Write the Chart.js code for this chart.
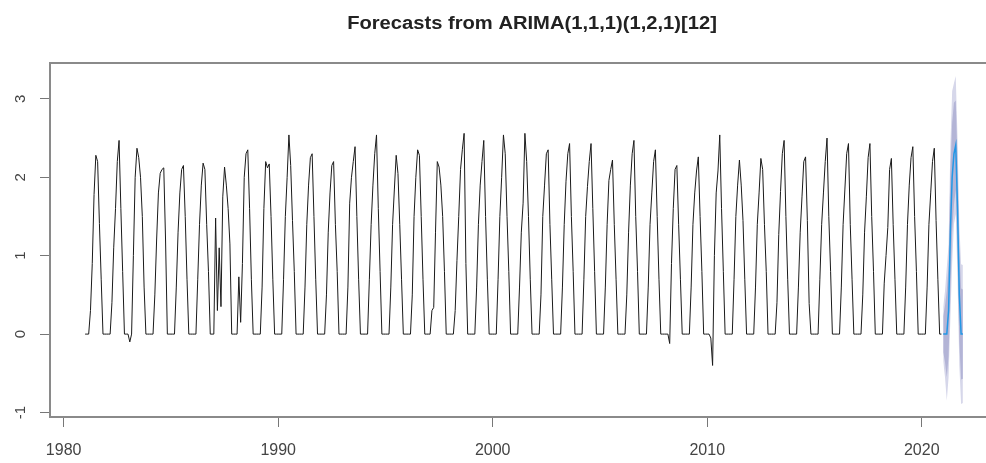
<!DOCTYPE html>
<html>
<head>
<meta charset="utf-8">
<script src="https://cdn.jsdelivr.net/npm/chart.js@4.4.1/dist/chart.umd.min.js"></script>
<style>
  html, body { margin: 0; padding: 0; background: #fff; overflow: hidden; }
  #wrap { position: absolute; left: 0; top: 0; width: 1000px; height: 463px; }
</style>
</head>
<body>
<div id="wrap"><canvas id="fcChart"></canvas></div>
<script>
// Monthly observations, one row per year (Jan..Dec)
const obs1981 = [
  [0, 0, 0, 0.30, 0.90, 1.78, 2.28, 2.20, 1.41, 0.70, 0, 0],
  [0, 0, 0, 0.40, 1.10, 1.60, 2.20, 2.47, 1.60, 0.80, 0, 0],
  [0, -0.10, 0, 1.00, 2.00, 2.37, 2.25, 2.00, 1.50, 0.60, 0, 0],
  [0, 0, 0, 0.50, 1.20, 1.80, 2.05, 2.10, 2.12, 1.20, 0, 0],
  [0, 0, 0, 0.60, 1.30, 1.80, 2.10, 2.15, 1.50, 0.70, 0, 0],
  [0, 0, 0, 0.70, 1.40, 1.90, 2.18, 2.10, 1.40, 0.80, 0, 0],
  [0, 1.48, 0.30, 1.10, 0.35, 1.75, 2.13, 1.90, 1.60, 1.15, 0, 0],
  [0, 0, 0.73, 0.15, 0.90, 2.00, 2.30, 2.35, 1.60, 0.70, 0, 0],
  [0, 0, 0, 0.60, 1.60, 2.20, 2.12, 2.17, 1.50, 0.70, 0, 0],
  [0, 0, 0, 0.70, 1.50, 2.00, 2.54, 2.15, 1.45, 0.80, 0, 0]
];
const obs1991 = [
  [0, 0, 0, 0.60, 1.40, 1.90, 2.25, 2.30, 1.50, 0.70, 0, 0],
  [0, 0, 0, 0.50, 1.30, 1.80, 2.15, 2.20, 1.40, 0.80, 0, 0],
  [0, 0, 0, 0.60, 1.67, 2.00, 2.20, 2.39, 1.50, 0.70, 0, 0],
  [0, 0, 0, 0.70, 1.40, 1.90, 2.30, 2.54, 1.60, 0.80, 0, 0],
  [0, 0, 0, 0.60, 1.40, 1.85, 2.28, 2.05, 1.40, 0.70, 0, 0],
  [0, 0, 0, 0.50, 1.50, 2.00, 2.35, 2.28, 1.50, 0.70, 0, 0],
  [0, 0, 0.30, 0.34, 1.30, 2.20, 2.13, 1.90, 1.50, 0.80, 0, 0],
  [0, 0, 0, 0.30, 0.94, 1.50, 2.10, 2.35, 2.56, 0.90, 0, 0],
  [0, 0, 0, 0.60, 1.40, 1.90, 2.20, 2.47, 1.50, 0.70, 0, 0],
  [0, 0, 0, 0.70, 1.50, 2.00, 2.54, 2.30, 1.50, 0.80, 0, 0]
];
const obs2001 = [
  [0, 0, 0, 0.60, 1.30, 1.67, 2.56, 2.20, 1.50, 0.70, 0, 0],
  [0, 0, 0, 0.50, 1.50, 1.90, 2.30, 2.35, 1.40, 0.70, 0, 0],
  [0, 0, 0, 0.60, 1.40, 1.95, 2.30, 2.43, 1.50, 0.80, 0, 0],
  [0, 0, 0, 0.70, 1.50, 1.88, 2.20, 2.43, 1.60, 0.80, 0, 0],
  [0, 0, 0, 0.60, 1.40, 1.96, 2.10, 2.22, 1.40, 0.70, 0, 0],
  [0, 0, 0, 0.50, 1.30, 1.90, 2.30, 2.47, 1.50, 0.80, 0, 0],
  [0, 0, 0, 0.60, 1.40, 1.80, 2.20, 2.35, 1.50, 0.70, 0, 0],
  [0, 0, 0, -0.12, 0.90, 1.60, 2.10, 2.15, 1.40, 0.70, 0, 0],
  [0, 0, 0, 0.60, 1.40, 1.80, 2.08, 2.26, 1.50, 0.80, 0, 0],
  [0, 0, -0.05, -0.40, 1.00, 1.80, 2.08, 2.54, 1.60, 0.80, 0, 0]
];
const obs2011 = [
  [0, 0, 0, 0.70, 1.50, 1.90, 2.22, 1.90, 1.45, 0.70, 0, 0],
  [0, 0, 0, 0.60, 1.40, 1.80, 2.24, 2.10, 1.40, 0.80, 0, 0],
  [0, 0, 0, 0.40, 1.27, 1.82, 2.30, 2.47, 1.50, 0.70, 0, 0],
  [0, 0, 0, 0.60, 1.30, 1.75, 2.20, 2.26, 1.45, 0.39, 0, 0],
  [0, 0, 0, 0.70, 1.40, 1.80, 2.20, 2.50, 1.50, 0.80, 0, 0],
  [0, 0, 0, 0.60, 1.40, 1.85, 2.30, 2.43, 1.40, 0.70, 0, 0],
  [0, 0, 0, 0.50, 1.30, 1.75, 2.25, 2.43, 1.50, 0.80, 0, 0],
  [0, 0, 0, 0.65, 1.00, 1.36, 2.10, 2.24, 1.40, 0.70, 0, 0],
  [0, 0, 0, 0.60, 1.40, 1.90, 2.25, 2.39, 1.50, 0.80, 0, 0],
  [0, 0, 0, 0.60, 1.40, 1.80, 2.20, 2.37, 1.45, 0.70, 0, 0]
];

// Forecast for 2021 (Jan..Dec) with 80% and 95% intervals
const fcMean = [0, 0, 0, 0.30, 1.30, 2.00, 2.30, 2.41, 1.60, 0.50, 0, 0];
const fcLo80 = [-0.23, -0.36, -0.55, -0.28, 0.53, 1.30, 1.65, 1.84, 1.00, -0.10, -0.58, -0.57];
const fcHi80 = [0.23, 0.36, 0.55, 0.88, 2.07, 2.70, 2.95, 2.98, 2.20, 1.10, 0.58, 0.57];
const fcLo95 = [-0.35, -0.55, -0.85, -0.55, 0.20, 0.90, 1.40, 1.53, 0.70, -0.40, -0.89, -0.88];
const fcHi95 = [0.35, 0.55, 0.85, 1.15, 2.40, 3.10, 3.20, 3.29, 2.50, 1.40, 0.89, 0.88];

const xTicks = [1980, 1990, 2000, 2010, 2020];
const yTicks = [-1, 0, 1, 2, 3];
const chartTitle = 'Forecasts from ARIMA(1,1,1)(1,2,1)[12]';

// build {x, y} points from yearly rows
function toPoints(rows, startYear) {
  const pts = [];
  rows.forEach((row, r) => {
    row.forEach((v, m) => pts.push({ x: startYear + r + m / 12, y: v }));
  });
  return pts;
}

const observed = [].concat(
  toPoints(obs1981, 1981), toPoints(obs1991, 1991),
  toPoints(obs2001, 2001), toPoints(obs2011, 2011)
);
const fc = arr => toPoints([arr], 2021);

// R-style 4% axis extension
const allY = observed.map(p => p.y).concat(fcLo95, fcHi95);
const yLo = Math.min(...allY), yHi = Math.max(...allY);
const xLo = 1981, xHi = 2021 + 11 / 12;
const yPad = (yHi - yLo) * 0.04, xPad = (xHi - xLo) * 0.04;

const FONT = '"Liberation Sans", Arial, sans-serif';

const rStyle = {
  id: 'rStyle',
  afterDraw(chart) {
    const { ctx, chartArea: a, scales } = chart;
    ctx.save();
    // plot box
    ctx.strokeStyle = '#8a8a8a';
    ctx.lineWidth = 2;
    ctx.strokeRect(a.left, a.top, a.right - a.left, a.bottom - a.top);
    // y tick labels, rotated like base R
    ctx.fillStyle = '#444';
    ctx.font = '15px ' + FONT;
    ctx.textAlign = 'center';
    ctx.textBaseline = 'middle';
    yTicks.forEach(v => {
      const y = scales.y.getPixelForValue(v);
      ctx.save();
      ctx.translate(21, y);
      ctx.rotate(-Math.PI / 2);
      ctx.fillText(String(v), 0, 0);
      ctx.restore();
    });
    // title (slightly wide, like the stretched original)
    ctx.fillStyle = '#222';
    ctx.font = 'bold 18px ' + FONT;
    ctx.translate(532, 24);
    ctx.scale(1.12, 1);
    ctx.fillText(chartTitle, 0, 0);
    ctx.restore();
  }
};

const ctx = document.getElementById('fcChart').getContext('2d');
const fcChart = new Chart(ctx, {
  type: 'line',
  data: {
    datasets: [
      { label: 'mean', data: fc(fcMean), borderColor: '#2297E6', borderWidth: 1.5, order: 1 },
      { label: 'observed', data: observed, borderColor: '#1a1a1a', borderWidth: 1, order: 2 },
      { label: 'lo95', data: fc(fcLo95), borderWidth: 0, borderColor: 'rgba(0,0,0,0)', order: 5 },
      { label: 'hi95', data: fc(fcHi95), borderWidth: 0, borderColor: 'rgba(0,0,0,0)',
        fill: 2, backgroundColor: '#D6D7EA', order: 5 },
      { label: 'lo80', data: fc(fcLo80), borderWidth: 0, borderColor: 'rgba(0,0,0,0)', order: 4 },
      { label: 'hi80', data: fc(fcHi80), borderWidth: 0, borderColor: 'rgba(0,0,0,0)',
        fill: 4, backgroundColor: '#B3B4D6', order: 4 }
    ]
  },
  options: {
    responsive: true,
    maintainAspectRatio: false,
    devicePixelRatio: 1,
    animation: false,
    layout: { padding: { top: 63, right: 2, left: 0, bottom: 0 } },
    elements: { point: { radius: 0 }, line: { tension: 0 } },
    plugins: { legend: { display: false }, tooltip: { enabled: false } },
    scales: {
      x: {
        type: 'linear',
        min: xLo - xPad,
        max: xHi + xPad,
        afterBuildTicks: s => { s.ticks = xTicks.map(v => ({ value: v })); },
        afterFit: s => { s.height = 46; },
        grid: { drawOnChartArea: false, color: '#777', tickLength: 10 },
        border: { display: false },
        ticks: {
          autoSkip: false, maxRotation: 0, padding: 14,
          color: '#444', font: { family: FONT, size: 16 },
          callback: v => String(v)
        }
      },
      y: {
        type: 'linear',
        min: yLo - yPad,
        max: yHi + yPad,
        afterBuildTicks: s => { s.ticks = yTicks.map(v => ({ value: v })); },
        afterFit: s => { s.width = 50; },
        grid: { drawOnChartArea: false, color: '#777', tickLength: 10 },
        border: { display: false },
        ticks: { display: false }
      }
    }
  },
  plugins: [rStyle]
});
</script>
</body>
</html>
